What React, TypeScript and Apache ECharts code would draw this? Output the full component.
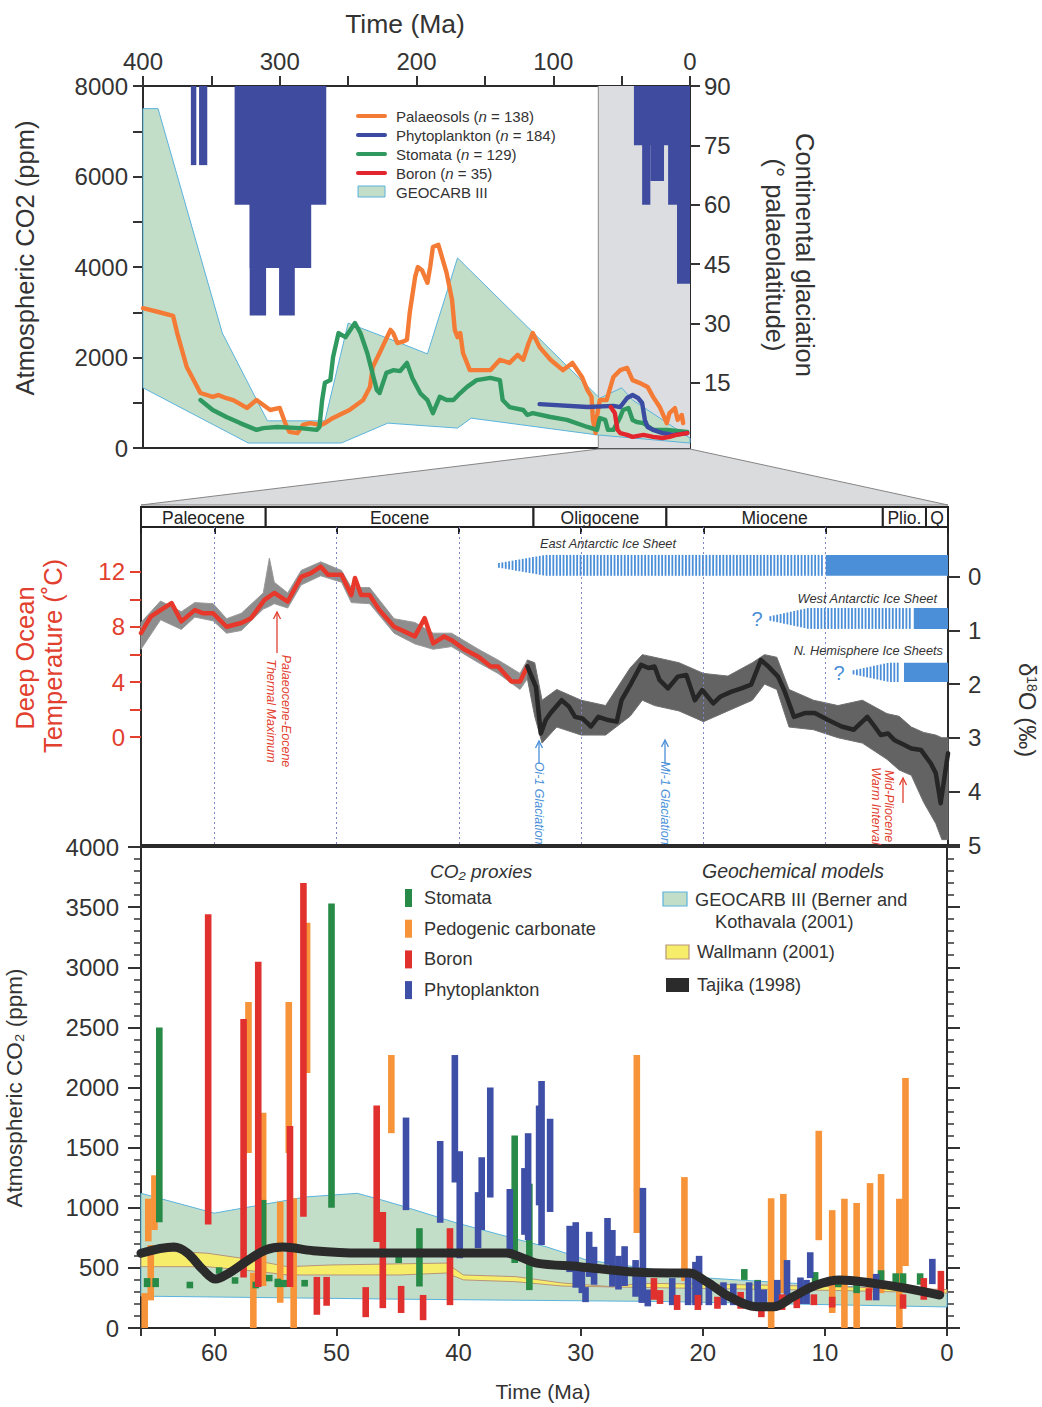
import React, { useEffect, useRef } from "react";
import * as echarts from "echarts";

// ---------------- DATA ----------------
// Top panel (400 Ma – 0 Ma): [age Ma, CO2 ppm]
const palaeosols = [[400,3090],[388,3000],[378,2920],[375,2540],[368,1790],[358,1215],[349,1130],[345,1170],[339,1100],[334,1060],[324,885],[317,1060],[312,950],[307,840],[300,885],[296,550],[293,355],[287,330],[283,510],[278,550],[270,510],[267,550],[261,665],[249,840],[239,1060],[234,1350],[232,1790],[227,2100],[219,2610],[217,2540],[214,2320],[210,2350],[207,2390],[205,2980],[201,3780],[199,4000],[196,3930],[192,3650],[190,4000],[188,4440],[184,4490],[178,3870],[174,3270],[172,2610],[170,2450],[168,2540],[166,2100],[161,1720],[146,1720],[139,1950],[132,1880],[126,2060],[122,1950],[118,2320],[115,2540],[110,2230],[102,1950],[93,1720],[86,1880],[79,1570],[75,1280],[72,1130],[71,620],[69,330],[68,700],[66,1060],[61,1060],[56,1570],[51,1720],[46,1770],[42,1500],[37,1440],[31,1350],[27,1130],[22,900],[17,550],[15,770],[11,880],[9,620],[6,730],[5,550]];
const stomataTop = [[358,1060],[349,840],[339,685],[329,550],[317,400],[312,440],[302,465],[285,440],[273,400],[271,465],[269,1060],[267,1440],[263,1500],[261,2010],[257,2540],[252,2450],[245,2760],[241,2540],[236,2100],[229,1280],[227,1215],[222,1660],[217,1720],[212,1700],[207,1880],[203,1540],[197,1200],[192,1060],[188,770],[183,1130],[178,1060],[173,1060],[168,1215],[163,1350],[156,1500],[146,1550],[139,1500],[137,1060],[132,905],[122,840],[119,730],[115,770],[102,685],[90,620],[75,465],[68,400],[66,660],[62,620],[60,400],[56,400],[51,685],[49,840],[45,885],[42,620],[39,575],[34,550],[27,400],[17,400],[2,355]];
const phytoTop = [[110,970],[75,905],[56,930],[51,905],[46,1105],[42,1170],[38,1105],[35,995],[33,620],[31,465],[27,400],[20,330],[12,290],[2,330]];
const boronTop = [[58,905],[55,775],[53,400],[51,330],[46,290],[42,245],[34,290],[27,245],[20,220],[15,245],[10,290],[2,330]];
const geocarbTopUpper = [[400,7500],[389,7500],[342,2540],[309,600],[267,600],[250,2760],[212,2320],[192,2080],[170,4200],[66,1100],[50,1330],[42,1060],[0,220]];
const geocarbTopLower = [[400,1330],[323,110],[255,110],[221,550],[170,440],[160,660],[68,290],[0,110]];
// continental glaciation: [from Ma, to Ma, palaeolatitude reached]
const glaciation = [[365,361,70],[359,353,70],[333,266,60],[322,277,44],[322,310,32],[300.5,289,32],[41,0,75],[35,29,60],[29,19,66],[16,9.5,60],[9.5,0,40]];
const zoomWindow = [[67, 0]];

// Middle panel (66 Ma – 0): epochs
const epochNames = ["Paleocene","Eocene","Oligocene","Miocene","Plio.","Q"];
const epochStart = [66,55.8,33.9,23.03,5.33,1.8];
const epochEnd = [55.8,33.9,23.03,5.33,1.8,0];
// δ18O smoothed curve [age, ‰]
const d18oWarm = [[66,1.05],[65.2,0.74],[64.4,0.62],[63.5,0.49],[62.7,0.83],[61.6,0.62],[60.9,0.68],[60.1,0.68],[59.0,0.93],[57.8,0.86],[57.0,0.77],[55.9,0.43],[55.1,0.30],[54.0,0.46],[52.9,0.0],[52.1,-0.07],[51.3,-0.19],[50.7,-0.04],[49.6,-0.04],[48.8,0.34],[48.5,0.02],[48.0,0.34],[47.3,0.34],[46.5,0.62],[45.3,0.93],[43.6,1.11],[42.8,0.77],[42.1,1.24],[41.2,1.11],[40.6,1.18],[39.5,1.36],[38.4,1.49],[37.4,1.67],[36.8,1.67],[35.7,1.95],[35.0,1.95],[34.4,1.67]];
const d18oIce = [[34.4,1.67],[33.7,2.05],[33.3,2.92],[32.9,2.67],[32.5,2.54],[31.6,2.30],[31.0,2.42],[30.5,2.61],[29.9,2.64],[29.2,2.79],[28.6,2.61],[27.8,2.67],[27.1,2.70],[26.7,2.30],[25.9,1.98],[25.1,1.64],[24.5,1.70],[24.0,1.67],[23.6,1.92],[22.9,2.08],[22.1,1.86],[21.4,1.83],[20.7,2.30],[20.1,2.11],[19.2,2.36],[18.6,2.23],[17.7,2.14],[16.9,2.08],[16.1,2.01],[15.3,1.55],[14.7,1.67],[13.9,1.86],[13.4,2.11],[12.6,2.61],[11.7,2.54],[10.9,2.54],[9.8,2.67],[8.7,2.79],[7.7,2.85],[6.6,2.61],[6.0,2.79],[5.5,2.95],[4.9,2.92],[4.4,3.04],[3.6,3.13],[3.0,3.20],[2.2,3.23],[1.4,3.48],[1.0,3.66],[0.6,4.22],[0.0,3.29]];
// envelope of individual δ18O measurements (greenhouse interval)
const warmCloudAge = [66,64.4,62.7,61.6,60.1,59,57.8,56,55.5,55.1,54,52.9,51.3,49.6,48.8,47.3,45.3,43.6,42.1,40.6,38.4,36.8,35.0,34.4];
const warmCloudTop = [0.85,0.45,0.65,0.48,0.5,0.78,0.68,0.3,-0.35,0.1,0.3,-0.12,-0.28,-0.12,0.2,0.2,0.78,0.85,1.05,1.05,1.35,1.55,1.8,1.55];
const warmCloudBottom = [1.35,0.8,0.98,0.75,0.82,1.05,1.0,0.6,0.55,0.5,0.58,0.15,-0.02,0.1,0.48,0.5,1.05,1.25,1.35,1.3,1.6,1.8,2.1,1.9];
// envelope of individual δ18O measurements (icehouse interval)
const iceCloudAge = [34.4,33.8,33.2,32,30,28,26,25,24,22,20,18,16,15,14,13,11,9,7,5,4,3,2,1,0.5,0];
const iceCloudTop = [1.55,1.6,2.3,2.1,2.3,2.4,1.7,1.45,1.5,1.6,1.8,1.85,1.6,1.45,1.5,2.1,2.3,2.4,2.3,2.55,2.6,2.8,2.9,2.95,3.0,3.0];
const iceCloudBottom = [1.9,2.6,3.1,2.8,2.95,2.95,2.6,2.3,2.4,2.5,2.7,2.5,2.3,2.0,2.1,2.8,2.85,3.0,3.1,3.4,3.6,3.7,4.2,4.6,4.9,4.9];
const gridAges = [10,20,30,40,50,60];
// ice sheets: hatched start, full-height start, hatch end, solid start, δ top, δ bottom
const iceNames = ["East Antarctic Ice Sheet","West Antarctic Ice Sheet","N. Hemisphere Ice Sheets"];
const iceHatchStart = [36.8,14.6,7.8];
const iceFullFrom = [33.0,11.5,4.9];
const iceHatchEnd = [10.0,2.8,3.85];
const iceSolidFrom = [10.0,2.8,3.6];
const iceTop = [-0.41,0.58,1.6];
const iceBottom = [-0.02,0.97,1.96];

// Bottom panel: proxy ranges [age, low, high]
const stomataBars = [[64.5,880,2500],[65.5,340,415],[64.8,340,415],[62.0,330,385],[59.6,455,500],[58.3,375,415],[56.6,330,385],[56.0,670,1065],[55.5,390,440],[54.8,340,410],[54.3,340,400],[52.6,345,400],[50.4,1000,3530],[44.9,540,620],[43.2,345,830],[35.4,540,1600],[34.2,315,1200],[16.6,400,490],[15.5,315,400],[10.8,375,465],[8.9,340,430],[7.4,290,370],[5.4,390,480],[4.2,360,455],[3.6,360,455],[2.2,360,455]];
const pedogenicBars = [[65.7,0,290],[65.4,720,1075],[65.2,230,690],[64.9,815,1270],[57.2,1455,2710],[56.8,0,460],[56.0,350,1790],[54.6,210,1050],[53.9,1455,2710],[53.5,0,1080],[52.4,2120,3370],[45.5,1620,2270],[25.4,790,2270],[21.5,390,1255],[14.4,0,1080],[13.4,290,1115],[10.5,730,1640],[9.4,125,980],[8.4,0,1075],[7.4,0,1040],[6.3,315,1205],[5.4,290,1280],[3.9,0,1075],[3.4,515,2080]];
const boronBars = [[60.5,860,3440],[57.6,420,2570],[56.4,340,3045],[53.8,340,1680],[52.7,925,3700],[51.6,110,425],[50.8,185,425],[47.6,90,340],[46.7,715,1850],[46.2,165,965],[44.7,125,350],[42.9,65,275],[40.7,190,830],[24.0,235,415],[23.5,200,315],[22.1,150,275],[20.4,150,275],[18.8,160,260],[16.9,160,300],[15.2,90,185],[13.5,150,280],[12.3,165,275],[10.9,190,280],[9.4,170,260],[6.4,230,330],[3.6,160,280],[1.9,235,415],[0.5,290,475]];
const phytoBars = [[44.3,980,1750],[41.5,875,1555],[40.3,1210,2270],[39.9,580,1470],[38.4,665,1130],[38.1,815,1420],[37.4,1085,2000],[35.8,620,1155],[34.6,775,1330],[34.3,730,1620],[33.4,1020,1850],[33.2,690,2055],[32.5,965,1740],[30.9,465,850],[30.4,335,880],[29.9,290,510],[29.6,215,340],[29.3,425,800],[28.9,360,675],[27.8,525,915],[27.4,345,815],[26.9,320,600],[26.4,350,680],[25.5,260,565],[25.0,210,450],[24.9,210,1165],[24.5,180,320],[22.5,190,415],[21.2,190,480],[20.6,190,550],[20.3,190,600],[19.5,190,400],[18.3,190,380],[17.5,190,370],[16.2,190,380],[15.5,190,390],[15.0,150,320],[13.9,150,400],[13.1,235,565],[12.0,200,420],[11.5,200,400],[11.2,415,630],[5.8,230,450],[1.2,365,575]];
const geocarbUpper = [[66,1120],[60,955],[52.5,1090],[48.3,1120],[46.3,1065],[44.8,1020],[40.2,875],[35.3,740],[32.8,675],[29.5,565],[22.7,468],[19.7,416],[14.3,382],[8.8,350],[0,300]];
const geocarbLower = [[66,265],[45,240],[23,220],[0,175]];
const wallmannUpper = [[66,650],[60.6,622],[57.3,574],[54,510],[50.5,524],[41,540],[39.6,441],[35.3,427],[31.5,374],[27.4,343],[25,372],[20,365],[14,355],[8,340],[0,320]];
const wallmannLower = [[66,510],[60.6,510],[56.2,468],[54,441],[44.8,441],[41,457],[39.6,400],[35.3,385],[31.5,349],[22.7,333],[14,320],[8,310],[0,290]];
const tajika = [[66,622],[63.3,674],[62.2,624],[60.9,482],[59.9,407],[58.8,457],[57.4,552],[55.8,649],[54.4,674],[51.9,643],[48.1,624],[44.8,624],[36.1,624],[35,593],[33.6,540],[30.1,510],[26,468],[22.7,457],[21.1,457],[19.7,385],[17.8,260],[15.6,177],[14.2,177],[12.6,260],[10.7,357],[8.8,399],[6,371],[3.3,330],[0.6,274]];

// ---------------- STYLE ----------------
const FONT = '"Liberation Sans", Arial, Helvetica, sans-serif';
const TXT = "#333";
const C_ORANGE = "#f47b35", C_NAVY = "#3b4ba1", C_GREEN = "#2f9960", C_RED = "#e3262d";
const GEO_FILL = "#c3dec8", GEO_EDGE = "#5ab3dd";
const GLAC = "#3f4b9e";
const ICE = "#4a8fd8";
const TEMP_RED = "#e2402f";
const P_STOM = "#278a47", P_PEDO = "#f79339", P_BORON = "#e0312f", P_PHYTO = "#3d4fa6";

function band(upper: number[][], lower: number[][], xi: number, yi: number, fill: string, stroke: string, z: number, lw = 1) {
  return {
    type: "custom", xAxisIndex: xi, yAxisIndex: yi, z, silent: true,
    data: [upper[0]],
    renderItem: (p: any, api: any) => {
      if (p.dataIndex !== 0) return null;
      const pts = upper.map((d) => api.coord(d)).concat(lower.slice().reverse().map((d) => api.coord(d)));
      return { type: "polygon", shape: { points: pts }, style: { fill, stroke, lineWidth: lw } };
    },
  };
}
function line(data: number[][], color: string, width: number, xi: number, yi: number, z: number, smooth: any = false) {
  return { type: "line", data, xAxisIndex: xi, yAxisIndex: yi, z, smooth, silent: true, symbol: "none", showSymbol: false, lineStyle: { color, width, join: "round", cap: "round" } };
}
function proxyBars(data: number[][], color: string, z: number) {
  return {
    type: "custom", xAxisIndex: 3, yAxisIndex: 5, z, silent: true, data,
    encode: { x: 0, y: [1, 2] },
    renderItem: (p: any, api: any) => {
      const a = api.value(0), lo = api.value(1), hi = api.value(2);
      const t = api.coord([a, hi]), b = api.coord([a, lo]);
      const w = 6.6;
      let h = b[1] - t[1], y = t[1];
      if (h < 6.5) { y -= (6.5 - h) / 2; h = 6.5; }
      return { type: "rect", shape: { x: t[0] - w / 2, y, width: w, height: h }, style: { fill: color } };
    },
  };
}

function buildOption() {
  const axisTickStyle = { color: TXT, width: 2 };
  const labelBase = { fontFamily: FONT, color: TXT, fontSize: 24 };
  const noLine = { show: false, onZero: false };
  const xAxis: any[] = [
    { gridIndex: 0, type: "value", position: "top", inverse: true, min: 0, max: 400, interval: 50,
      axisLine: noLine, axisTick: { length: 10, lineStyle: axisTickStyle },
      axisLabel: { ...labelBase, margin: 13, formatter: (v: number) => (v % 100 === 0 ? String(v) : "") }, splitLine: { show: false } },
    { gridIndex: 1, type: "value", inverse: true, min: 0, max: 66, show: false, axisLine: noLine },
    { gridIndex: 2, type: "value", position: "top", inverse: true, min: 0, max: 66, interval: 10,
      axisLine: noLine, axisTick: { inside: true, length: 7, lineStyle: { color: "#222", width: 2 } },
      axisLabel: { show: false }, splitLine: { show: false } },
    { gridIndex: 3, type: "value", position: "bottom", inverse: true, min: 0, max: 66, interval: 10,
      axisLine: noLine, axisTick: { length: 8, lineStyle: axisTickStyle },
      axisLabel: { ...labelBase, margin: 12, formatter: (v: number) => (v % 10 === 0 ? String(v) : "") }, splitLine: { show: false } },
  ];
  const glacTicks = [15, 30, 45, 60, 75, 90];
  const plain = (v: number) => String(v);
  const yAxis: any[] = [
    { gridIndex: 0, type: "value", position: "left", min: 0, max: 8000, interval: 1000,
      axisLine: noLine, axisTick: { length: 10, lineStyle: axisTickStyle },
      axisLabel: { ...labelBase, margin: 15, formatter: (v: number) => (v % 2000 === 0 ? String(v) : "") }, splitLine: { show: false } },
    { gridIndex: 0, type: "value", position: "right", min: -1.5, max: 90,
      axisLine: noLine, axisTick: { length: 10, customValues: glacTicks, lineStyle: axisTickStyle },
      axisLabel: { ...labelBase, margin: 14, customValues: glacTicks, formatter: plain }, splitLine: { show: false } },
    { gridIndex: 1, type: "value", min: 0, max: 1, show: false, axisLine: noLine },
    { gridIndex: 2, type: "value", position: "left", min: -7.85, max: 15.27,
      axisLine: noLine, axisTick: { length: 11, customValues: [0, 2, 4, 6, 8, 10, 12], lineStyle: { color: TEMP_RED, width: 2 } },
      axisLabel: { ...labelBase, color: TEMP_RED, margin: 16, customValues: [0, 4, 8, 12], formatter: plain }, splitLine: { show: false } },
    { gridIndex: 2, type: "value", position: "right", inverse: true, min: -0.93, max: 5,
      axisLine: noLine, axisTick: { length: 12, customValues: [0, 1, 2, 3, 4, 5], lineStyle: axisTickStyle },
      axisLabel: { ...labelBase, margin: 20, customValues: [0, 1, 2, 3, 4, 5], formatter: plain }, splitLine: { show: false } },
    { gridIndex: 3, type: "value", position: "left", min: 0, max: 4000, interval: 500,
      axisLine: noLine, axisTick: { length: 13, lineStyle: axisTickStyle },
      minorTick: { show: true, splitNumber: 5, length: 7, lineStyle: { color: TXT, width: 1.5 } },
      axisLabel: { ...labelBase, margin: 22, formatter: plain }, splitLine: { show: false }, minorSplitLine: { show: false } },
    { gridIndex: 3, type: "value", position: "right", min: 0, max: 4000, interval: 500,
      axisLine: noLine, axisTick: { length: 13, lineStyle: axisTickStyle },
      minorTick: { show: true, splitNumber: 5, length: 7, lineStyle: { color: TXT, width: 1.5 } },
      axisLabel: { show: false }, splitLine: { show: false }, minorSplitLine: { show: false } },
  ];
  const gridBorder = { show: true, borderColor: "#2a2a2a", borderWidth: 2, backgroundColor: "transparent" };
  const grid = [
    { left: 143, top: 86, width: 547, height: 362, ...gridBorder },
    { left: 141, top: 507, width: 807, height: 20, show: false },
    { left: 141, top: 527, width: 807, height: 318, ...gridBorder },
    { left: 141, top: 847, width: 806, height: 481, ...gridBorder },
  ];

  const series: any[] = [
    // top: zoom window shading
    { type: "custom", xAxisIndex: 0, yAxisIndex: 0, z: 1, silent: true, data: zoomWindow,
      renderItem: (p: any, api: any) => {
        const a = api.coord([api.value(0), 8000]), b = api.coord([api.value(1), 0]);
        return { type: "group", children: [
          { type: "rect", shape: { x: a[0], y: a[1], width: b[0] - a[0], height: b[1] - a[1] }, style: { fill: "#dcdde0" } },
          { type: "line", shape: { x1: a[0], y1: a[1], x2: a[0], y2: b[1] }, style: { stroke: "#9a9a9a", lineWidth: 1.2 } },
        ] };
      } },
    // top: glaciation bars
    { type: "custom", xAxisIndex: 0, yAxisIndex: 1, z: 2, silent: true, data: glaciation, encode: { x: [0, 1], y: 2 },
      renderItem: (p: any, api: any) => {
        const a = api.coord([api.value(0), 90]), b = api.coord([api.value(1), api.value(2)]);
        return { type: "rect", shape: { x: Math.min(a[0], b[0]), y: a[1], width: Math.abs(b[0] - a[0]), height: b[1] - a[1] }, style: { fill: GLAC } };
      } },
    band(geocarbTopUpper, geocarbTopLower, 0, 0, GEO_FILL, GEO_EDGE, 3),
    line(palaeosols, C_ORANGE, 4.4, 0, 0, 5),
    line(stomataTop, C_GREEN, 4.4, 0, 0, 6),
    line(phytoTop, C_NAVY, 4.4, 0, 0, 7),
    line(boronTop, C_RED, 4.4, 0, 0, 8),
    // epoch header
    { type: "custom", xAxisIndex: 1, yAxisIndex: 2, z: 3, silent: true,
      data: epochStart.map((s, i) => [s, epochEnd[i]]), encode: { x: [0, 1] },
      renderItem: (p: any, api: any) => {
        const a = api.coord([api.value(0), 1]), b = api.coord([api.value(1), 0]);
        return { type: "group", children: [
          { type: "rect", shape: { x: a[0], y: a[1], width: b[0] - a[0], height: b[1] - a[1] }, style: { fill: "#fff", stroke: "#222", lineWidth: 2 } },
          { type: "text", x: (a[0] + b[0]) / 2, y: (a[1] + b[1]) / 2 + 1, style: { text: epochNames[p.dataIndex], fill: "#222", fontSize: 17.5, fontFamily: FONT, align: "center", verticalAlign: "middle" } },
        ] };
      } },
    // middle: dotted time lines
    { type: "line", xAxisIndex: 2, yAxisIndex: 4, z: 1, silent: true, data: [[66, 0], [0, 0]], symbol: "none", lineStyle: { opacity: 0 },
      markLine: { silent: true, symbol: ["none", "none"], label: { show: false }, lineStyle: { type: [2, 3], color: "#7d84c8", width: 1 },
        data: gridAges.map((a) => ({ xAxis: a })) } },
    band(warmCloudAge.map((a, i) => [a, warmCloudTop[i]]), warmCloudAge.map((a, i) => [a, warmCloudBottom[i]]), 2, 4, "#8e8e8e", "#9a9a9a", 3, 1),
    band(iceCloudAge.map((a, i) => [a, iceCloudTop[i]]), iceCloudAge.map((a, i) => [a, iceCloudBottom[i]]), 2, 4, "#636363", "#707070", 3, 1),
    line(d18oWarm, "#e8372b", 4.5, 2, 4, 5),
    line(d18oIce, "#262626", 4.5, 2, 4, 5),
    // ice sheets
    { type: "custom", xAxisIndex: 2, yAxisIndex: 4, z: 4, silent: true,
      data: iceHatchStart.map((s, i) => [s, iceTop[i]]),
      renderItem: (p: any, api: any) => {
        const i = p.dataIndex;
        const x0 = api.coord([iceHatchStart[i], 0])[0];
        const xf = api.coord([iceFullFrom[i], 0])[0];
        const xe = api.coord([iceHatchEnd[i], 0])[0];
        const xs = api.coord([iceSolidFrom[i], 0])[0];
        const xEnd = api.coord([0, 0])[0];
        const yT = api.coord([0, iceTop[i]])[1], yB = api.coord([0, iceBottom[i]])[1];
        const hFull = yB - yT, yMid = (yT + yB) / 2;
        const children: any[] = [];
        for (let x = x0; x < xe - 1.5; x += 3.4) {
          const f = x < xf ? 0.22 + 0.78 * (x - x0) / (xf - x0) : 1;
          const h = hFull * f;
          children.push({ type: "rect", shape: { x, y: yMid - h / 2, width: 1.8, height: h }, style: { fill: ICE } });
        }
        children.push({ type: "rect", shape: { x: xs, y: yT, width: xEnd - xs, height: hFull }, style: { fill: ICE } });
        return { type: "group", children };
      } },
    // bottom panel
    band(geocarbUpper, geocarbLower, 3, 5, GEO_FILL, GEO_EDGE, 2, 1),
    band(wallmannUpper, wallmannLower, 3, 5, "#f6ee6a", "#b79479", 3, 1),
    proxyBars(pedogenicBars, P_PEDO, 4),
    proxyBars(stomataBars, P_STOM, 5),
    proxyBars(phytoBars, P_PHYTO, 5),
    proxyBars(boronBars, P_BORON, 6),
    line(tajika, "#2b2b2b", 9, 3, 5, 8, 0.35),
  ];

  const t = (text: string, x: number, y: number, opts: any = {}) => ({
    type: "text", x, y, rotation: opts.rotation || 0, z: 20,
    style: { text, fill: opts.fill || TXT, fontSize: opts.fontSize || 14, fontFamily: FONT, fontStyle: opts.italic ? "italic" : "normal",
      align: opts.align || "left", verticalAlign: opts.va || "middle", lineHeight: opts.lineHeight, rich: opts.rich },
  });
  const arrow = (x: number, y1: number, y2: number, color: string) => ({
    type: "group", z: 20, children: [
      { type: "line", shape: { x1: x, y1, x2: x, y2: y2 }, style: { stroke: color, lineWidth: 1.3 } },
      { type: "polyline", shape: { points: [[x - 3.5, y2 + 7], [x, y2], [x + 3.5, y2 + 7]] }, style: { stroke: color, lineWidth: 1.3, fill: null } },
    ],
  });
  const italicN = { i: { fontStyle: "italic", fontSize: 15, fontFamily: FONT, fill: TXT } };
  const topLegend = [
    ["Palaeosols ({i|n} = 138)", C_ORANGE],
    ["Phytoplankton ({i|n} = 184)", C_NAVY],
    ["Stomata ({i|n} = 129)", C_GREEN],
    ["Boron ({i|n} = 35)", C_RED],
  ];
  const botLegend = [["Stomata", P_STOM], ["Pedogenic carbonate", P_PEDO], ["Boron", P_BORON], ["Phytoplankton", P_PHYTO]];
  const graphic: any[] = [
    { type: "polygon", z: 0, shape: { points: [[598.5, 449], [690, 449], [948, 505], [141, 505]] }, style: { fill: "#dadbdd", stroke: "#858585", lineWidth: 1 } },
    t("Time (Ma)", 405, 24, { fontSize: 26.5, align: "center" }),
    t("Atmospheric CO2 (ppm)", 25, 258, { fontSize: 25.5, align: "center", rotation: Math.PI / 2 }),
    t("Continental glaciation", 805, 255, { fontSize: 25.5, align: "center", rotation: -Math.PI / 2 }),
    t("(° palaeolatitude)", 775, 255, { fontSize: 25.5, align: "center", rotation: -Math.PI / 2 }),
    ...topLegend.flatMap((d, i) => [
      { type: "line", z: 20, shape: { x1: 358, y1: 116 + i * 19, x2: 385, y2: 116 + i * 19 }, style: { stroke: d[1], lineWidth: 4, lineCap: "round" } },
      t(d[0], 396, 116 + i * 19, { fontSize: 15, rich: italicN }),
    ]),
    { type: "rect", z: 20, shape: { x: 358, y: 186, width: 27, height: 11 }, style: { fill: GEO_FILL, stroke: GEO_EDGE, lineWidth: 1 } },
    t("GEOCARB III", 396, 192, { fontSize: 15 }),
    // middle labels
    t("Deep Ocean", 25, 658, { fontSize: 25.5, align: "center", rotation: Math.PI / 2, fill: TEMP_RED }),
    t("Temperature (˚C)", 53, 656, { fontSize: 25.5, align: "center", rotation: Math.PI / 2, fill: TEMP_RED }),
    t("{a|δ}{s|18}{a|O (‰)}", 1027, 710, { fontSize: 24, align: "center", rotation: -Math.PI / 2,
      rich: { a: { fontSize: 24, fontFamily: FONT, fill: TXT }, s: { fontSize: 14, fontFamily: FONT, fill: TXT, verticalAlign: "top", padding: [0, 0, 6, 0] } } }),
    t(iceNames[0], 608, 543, { fontSize: 12.8, italic: true, align: "center" }),
    t(iceNames[1], 937, 598, { fontSize: 12.8, italic: true, align: "right" }),
    t(iceNames[2], 943, 650, { fontSize: 12.8, italic: true, align: "right" }),
    t("?", 757, 619, { fontSize: 20, fill: ICE, align: "center" }),
    t("?", 839, 673, { fontSize: 20, fill: ICE, align: "center" }),
    arrow(277, 653, 612, TEMP_RED),
    t("Palaeocene-Eocene\nThermal Maximum", 278, 711, { fontSize: 12.5, italic: true, align: "center", rotation: -Math.PI / 2, fill: TEMP_RED, lineHeight: 15 }),
    arrow(539, 764, 741, ICE),
    t("Oi-1 Glaciation", 539, 803, { fontSize: 12.5, italic: true, align: "center", rotation: -Math.PI / 2, fill: ICE }),
    arrow(665, 764, 740, ICE),
    t("Mi-1 Glaciation", 665, 803, { fontSize: 12.5, italic: true, align: "center", rotation: -Math.PI / 2, fill: ICE }),
    arrow(903, 803, 778, TEMP_RED),
    t("Mid-Pliocene\nWarm Interval", 882, 806, { fontSize: 12.5, italic: true, align: "center", rotation: -Math.PI / 2, fill: TEMP_RED, lineHeight: 13 }),
    // bottom labels
    t("Atmospheric CO₂ (ppm)", 14, 1088, { fontSize: 22.5, align: "center", rotation: Math.PI / 2 }),
    t("Time (Ma)", 543, 1391, { fontSize: 21, align: "center" }),
    t("CO₂ proxies", 430, 871, { fontSize: 19, italic: true }),
    ...botLegend.flatMap((d, i) => [
      { type: "rect", z: 20, shape: { x: 405, y: 889 + i * 30.7, width: 7, height: 18 }, style: { fill: d[1] } },
      t(d[0], 424, 898 + i * 30.7, { fontSize: 18.2 }),
    ]),
    t("Geochemical models", 702, 871, { fontSize: 19.5, italic: true }),
    { type: "rect", z: 20, shape: { x: 663, y: 892, width: 24, height: 14 }, style: { fill: GEO_FILL, stroke: GEO_EDGE, lineWidth: 1.2 } },
    t("GEOCARB III (Berner and", 695, 900, { fontSize: 18.2 }),
    t("Kothavala (2001)", 715, 922, { fontSize: 18.2 }),
    { type: "rect", z: 20, shape: { x: 666, y: 945, width: 23, height: 14 }, style: { fill: "#f6ee6a", stroke: "#b79479", lineWidth: 1.2 } },
    t("Wallmann (2001)", 697, 952, { fontSize: 18.2 }),
    { type: "rect", z: 20, shape: { x: 666, y: 978, width: 23, height: 14 }, style: { fill: "#2b2b2b" } },
    t("Tajika (1998)", 697, 985, { fontSize: 18.2 }),
  ];

  return { animation: false, backgroundColor: "#fff", textStyle: { fontFamily: FONT }, grid, xAxis, yAxis, series, graphic };
}

export default function App() {
  const ref = useRef<HTMLDivElement>(null);
  useEffect(() => {
    if (!ref.current) return;
    const chart = echarts.init(ref.current, null, { renderer: "svg" });
    chart.setOption(buildOption() as any);
    return () => chart.dispose();
  }, []);
  return <div ref={ref} style={{ position: "absolute", left: 0, top: 0, width: 1042, height: 1407, background: "#fff" }} />;
}
